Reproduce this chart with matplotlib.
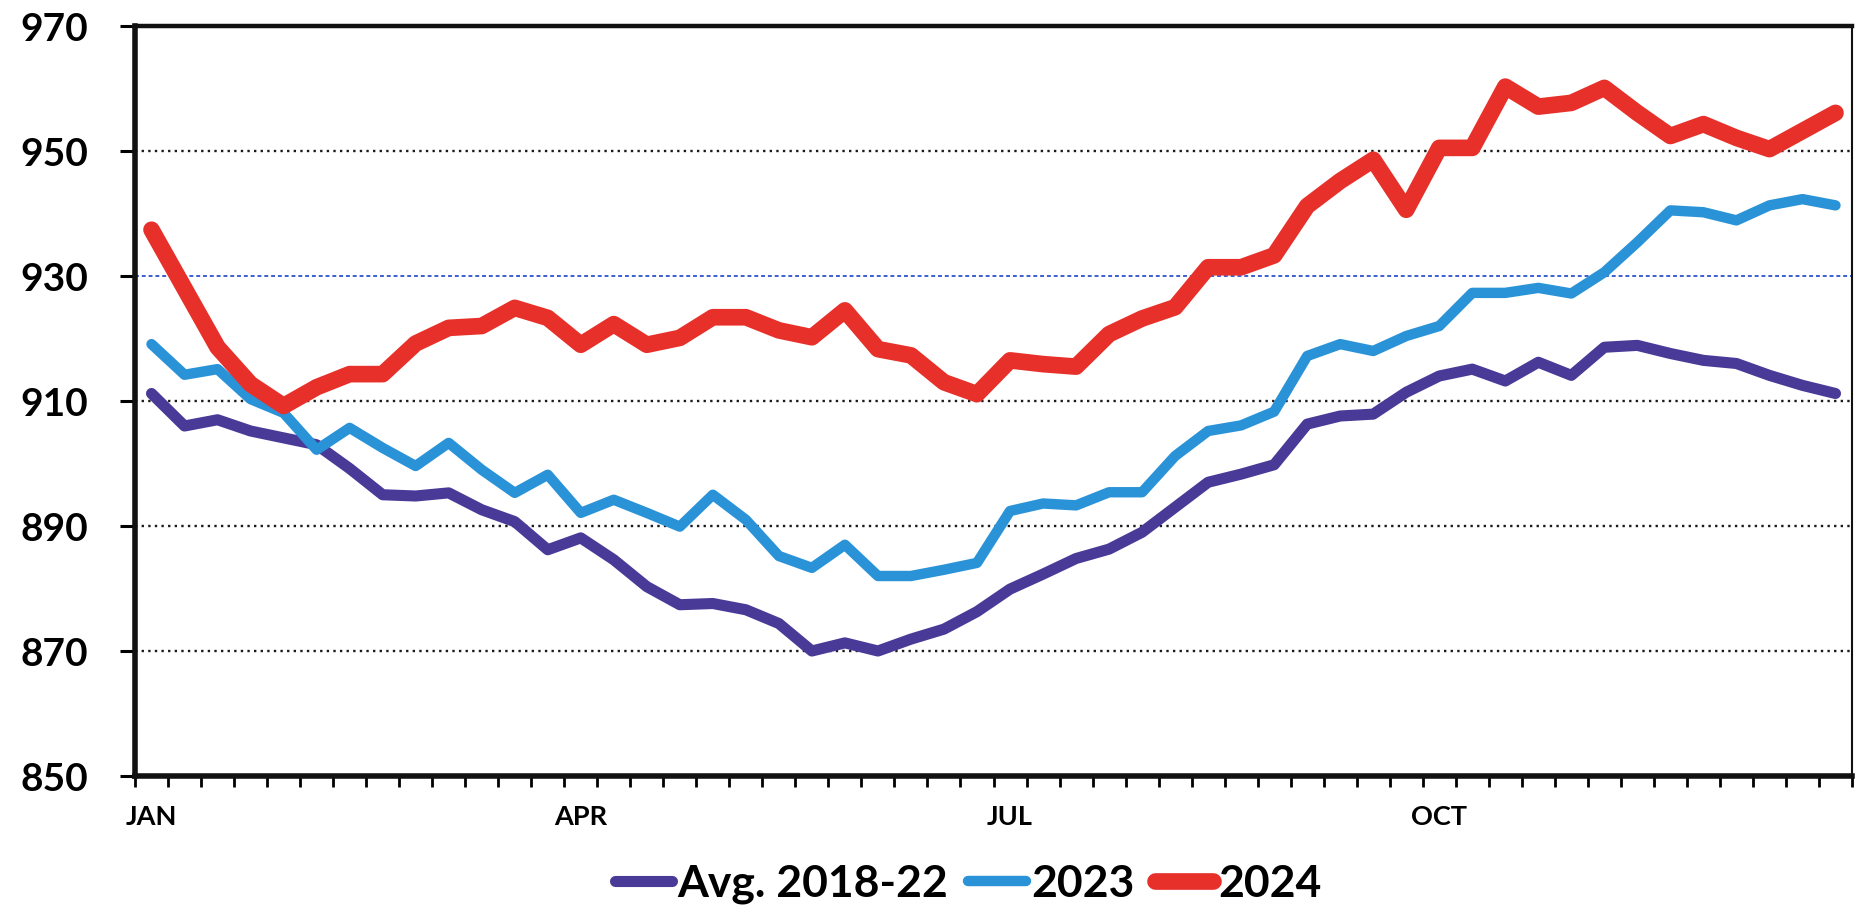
import matplotlib
matplotlib.use("Agg")
import matplotlib.pyplot as plt
import numpy as np

# weekly values, week 0 = first week of January
weeks = np.arange(52)
month_labels = ["JAN", "APR", "JUL", "OCT"]
month_weeks = [0, 13, 26, 39]

avg_2018_22 = [
    911.2, 906.0, 907.0, 905.2, 904.1, 903.0, 899.2, 895.0, 894.8, 895.3,
    892.6, 890.7, 886.2, 888.1, 884.6, 880.3, 877.4, 877.6, 876.6, 874.4,
    870.0, 871.3, 870.0, 871.9, 873.5, 876.3, 879.9, 882.3, 884.8, 886.3,
    889.0, 893.0, 897.0, 898.3, 899.8, 906.3, 907.6, 907.9, 911.4, 914.0,
    915.1, 913.2, 916.2, 914.1, 918.6, 918.9, 917.6, 916.5, 916.0, 914.1,
    912.5, 911.2,
]
y2023 = [
    919.1, 914.2, 915.1, 910.3, 908.1, 902.2, 905.7, 902.5, 899.6, 903.3,
    899.0, 895.3, 898.2, 892.1, 894.2, 892.1, 889.9, 895.0, 891.0, 885.2,
    883.3, 887.0, 882.0, 882.0, 883.0, 884.1, 892.4, 893.6, 893.3, 895.4,
    895.4, 901.2, 905.2, 906.1, 908.3, 917.2, 919.1, 918.0, 920.4, 922.0,
    927.3, 927.3, 928.1, 927.2, 930.6, 935.4, 940.5, 940.2, 938.9, 941.3,
    942.3, 941.3,
]
y2024 = [
    937.4, 928.0, 918.6, 912.7, 909.2, 912.2, 914.3, 914.3, 919.2, 921.7,
    922.0, 924.9, 923.3, 919.0, 922.3, 919.0, 920.1, 923.4, 923.4, 921.3,
    920.2, 924.5, 918.3, 917.3, 913.0, 911.1, 916.5, 915.9, 915.5, 920.7,
    923.2, 925.0, 931.4, 931.4, 933.3, 941.2, 945.2, 948.6, 940.6, 950.5,
    950.5, 960.3, 957.1, 957.7, 960.1, 956.1, 952.4, 954.3, 952.1, 950.3,
    953.2, 956.1,
]

plt.rcParams["font.family"] = ["Lato", "DejaVu Sans"]
plt.rcParams["font.weight"] = "bold"

W, H = 1857, 905
fig = plt.figure(figsize=(W / 100, H / 100), dpi=100)
ax = fig.add_axes([135 / W, 1 - 776 / H, (1852 - 135) / W, (776 - 26) / H])

# gridlines
for v in [870, 890, 910, 950]:
    ax.axhline(v, color="#1a1a1a", lw=1.7, ls=(0, (1, 1.8)), zorder=1)
ax.axhline(930, color="#3b5fd0", lw=1.4, ls=(0, (2, 1.5)), zorder=1)

kw = dict(solid_capstyle="round", solid_joinstyle="round")
ax.plot(weeks, avg_2018_22, color="#4a3a98", lw=8, label="Avg. 2018-22", zorder=3, **kw)
ax.plot(weeks, y2023, color="#2a93d8", lw=7.5, label="2023", zorder=4, **kw)
ax.plot(weeks, y2024, color="#e8302a", lw=12, label="2024", zorder=5, **kw)

ax.set_xlim(-0.5, 51.5)
ax.set_ylim(850, 970)

ax.set_yticks(range(850, 971, 20))
ax.tick_params(axis="y", direction="out", length=11, width=2.2, pad=23, labelsize=28)

ax.set_xticks(month_weeks)
ax.set_xticklabels(month_labels)
ax.set_xticks(np.arange(-0.5, 52, 1), minor=True)
ax.tick_params(axis="x", which="major", length=0, pad=21, labelsize=19.5)
ax.tick_params(axis="x", which="minor", direction="out", length=8, width=2)

for side, lw in [("left", 4), ("bottom", 4), ("top", 3.2), ("right", 1.5)]:
    ax.spines[side].set_linewidth(lw)
    ax.spines[side].set_color("#111111")

fig.legend(loc="center", bbox_to_anchor=(968 / W, 1 - 884 / H), ncol=3, frameon=False,
           fontsize=32, handlelength=1.3, handletextpad=0.12, columnspacing=0.45)

fig.savefig("out.png", dpi=100)
